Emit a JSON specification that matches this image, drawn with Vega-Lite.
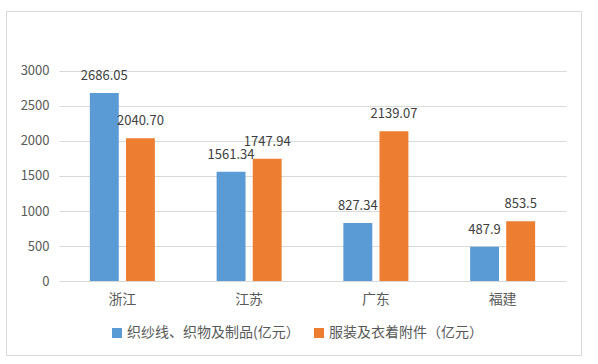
{
  "$schema": "https://vega.github.io/schema/vega-lite/v6.json",
  "width": 575,
  "height": 344,
  "autosize": {"type": "none"},
  "padding": {"left": 6, "top": 11, "right": 17, "bottom": 9},
  "background": "white",
  "config": {
    "font": "Noto Sans CJK SC",
    "view": {"stroke": "#d9d9d9", "strokeWidth": 1}
  },
  "data": {
    "values": [
      {"province": "浙江", "series": "织纱线、织物及制品(亿元）", "value": 2686.05, "label": "2686.05"},
      {"province": "浙江", "series": "服装及衣着附件（亿元）", "value": 2040.70, "label": "2040.70"},
      {"province": "江苏", "series": "织纱线、织物及制品(亿元）", "value": 1561.34, "label": "1561.34"},
      {"province": "江苏", "series": "服装及衣着附件（亿元）", "value": 1747.94, "label": "1747.94"},
      {"province": "广东", "series": "织纱线、织物及制品(亿元）", "value": 827.34, "label": "827.34"},
      {"province": "广东", "series": "服装及衣着附件（亿元）", "value": 2139.07, "label": "2139.07"},
      {"province": "福建", "series": "织纱线、织物及制品(亿元）", "value": 487.9, "label": "487.9"},
      {"province": "福建", "series": "服装及衣着附件（亿元）", "value": 853.5, "label": "853.5"}
    ]
  },
  "encoding": {
    "x": {
      "field": "province",
      "type": "nominal",
      "sort": ["浙江", "江苏", "广东", "福建"],
      "scale": {"range": [53, 560], "paddingInner": 0.487, "paddingOuter": 0.2435},
      "axis": {
        "title": null,
        "orient": "bottom",
        "offset": -74,
        "domain": false,
        "ticks": false,
        "labelAngle": 0,
        "labelFontSize": 14,
        "labelColor": "#595959",
        "labelPadding": 11
      }
    },
    "xOffset": {
      "field": "series",
      "type": "nominal",
      "sort": ["织纱线、织物及制品(亿元）", "服装及衣着附件（亿元）"],
      "scale": {"paddingInner": 0.2, "paddingOuter": 0}
    },
    "y": {
      "field": "value",
      "type": "quantitative",
      "scale": {"domain": [-1057.1, 3857.1], "nice": false, "zero": false},
      "axis": {
        "title": null,
        "values": [0, 500, 1000, 1500, 2000, 2500, 3000],
        "format": "d",
        "offset": -53,
        "domain": false,
        "ticks": false,
        "grid": true,
        "gridColor": "#d9d9d9",
        "gridWidth": 1,
        "labelFontSize": 13,
        "labelColor": "#595959",
        "labelPadding": 10
      }
    }
  },
  "layer": [
    {
      "mark": {"type": "bar"},
      "encoding": {
        "y2": {"datum": 0},
        "color": {
          "field": "series",
          "type": "nominal",
          "scale": {
            "domain": ["织纱线、织物及制品(亿元）", "服装及衣着附件（亿元）"],
            "range": ["#5B9BD5", "#ED7D31"]
          },
          "legend": {
            "title": null,
            "orient": "none",
            "legendX": 104,
            "legendY": 315,
            "direction": "horizontal",
            "symbolType": "square",
            "symbolSize": 100,
            "symbolStrokeWidth": 0,
            "labelFontSize": 14,
            "labelColor": "#595959",
            "labelOffset": 3,
            "labelLimit": 0,
            "columnPadding": 12
          }
        }
      }
    },
    {
      "mark": {"type": "text", "dy": -17, "baseline": "middle", "fontSize": 13, "color": "#404040"},
      "encoding": {"text": {"field": "label"}}
    }
  ]
}
